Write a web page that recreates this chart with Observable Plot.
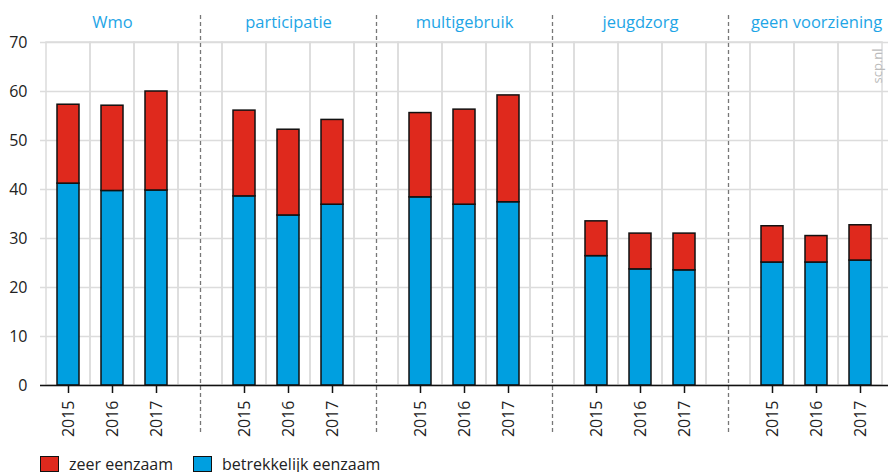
<!DOCTYPE html>
<html>
<head>
<meta charset="utf-8">
<script src="https://cdn.jsdelivr.net/npm/d3@7"></script>
<script src="https://cdn.jsdelivr.net/npm/@observablehq/plot@0.6"></script>
<style>
  body { margin: 0; background: #fff; font-family: "Open Sans", sans-serif; }
  #legend { display: flex; align-items: center; margin: 6px 0 0 40px; font-size: 16px; line-height: 16px; height: 16px; color: #222; }
  .sw { width: 17px; height: 14px; border: 1px solid #111; margin-right: 10px; }
  .item { display: flex; align-items: center; margin-right: 20px; }
</style>
</head>
<body>
<div id="chart"></div>
<div id="legend"></div>
<script>
const groups = ["Wmo", "participatie", "multigebruik", "jeugdzorg", "geen voorziening"];
const years = ["2015", "2016", "2017"];
const betrekkelijk = [
  [41.2, 39.7, 39.8],
  [38.6, 34.7, 36.9],
  [38.4, 36.9, 37.4],
  [26.4, 23.7, 23.5],
  [25.1, 25.1, 25.5]
];
const zeer = [
  [16.1, 17.4, 20.2],
  [17.5, 17.5, 17.3],
  [17.2, 19.4, 21.8],
  [7.1, 7.3, 7.5],
  [7.4, 5.4, 7.2]
];
const seriesNames = ["zeer eenzaam", "betrekkelijk eenzaam"];
const seriesColors = ["#df291d", "#009fe0"];
const yTicks = [0, 10, 20, 30, 40, 50, 60, 70];

// category ids: 3 years per group + an empty separator slot between groups
const ids = [];
const yearIds = [];
const sepIds = [];
const midIds = [];
groups.forEach((g, gi) => {
  years.forEach((y, yi) => { const id = g + "|" + y; ids.push(id); yearIds.push(id); if (yi === 1) midIds.push(id); });
  if (gi < groups.length - 1) { const s = "sep" + gi; ids.push(s); sepIds.push(s); }
});

const data = [];
groups.forEach((g, gi) => years.forEach((y, yi) => {
  data.push({id: g + "|" + y, series: seriesNames[1], value: betrekkelijk[gi][yi]});
  data.push({id: g + "|" + y, series: seriesNames[0], value: zeer[gi][yi]});
}));

const chart = Plot.plot({
  width: 888,
  height: 450,
  marginLeft: 40,
  marginRight: 0,
  marginTop: 42,
  marginBottom: 65,
  style: {fontFamily: "Open Sans, sans-serif", fontSize: "16px", color: "#222", background: "#fff", overflow: "visible", display: "block"},
  x: {domain: ids, padding: 0, label: null},
  y: {domain: [0, 70], label: null},
  color: {domain: seriesNames, range: seriesColors},
  marks: [
    Plot.gridY(yTicks, {stroke: "#dcdcdc", strokeOpacity: 1, strokeWidth: 1.5}),
    Plot.barY(ids, {x: d => d, y1: 0, y2: 70, fill: "none", stroke: "#dcdcdc", strokeWidth: 1.5}),
    Plot.ruleX(sepIds, {x: d => d, stroke: "#777", strokeWidth: 1.3, strokeDasharray: "4,3", insetTop: -27, insetBottom: -48}),
    Plot.barY(data, {x: "id", y: "value", fill: "series", order: [seriesNames[1], seriesNames[0]], stroke: "#111", strokeWidth: 1.5, insetLeft: 11, insetRight: 11}),
    Plot.ruleY([0], {stroke: "#111", strokeWidth: 1.5}),
    Plot.axisY(yTicks, {tickSize: 0, tickPadding: 13, fontSize: 16, fill: "#222", label: null}),
    Plot.axisX(yearIds, {tickSize: 8, tickPadding: 7, tickRotate: -90, fontSize: 16, fill: "#222", label: null, tickFormat: d => d.split("|")[1], stroke: "#111", strokeWidth: 1.5}),
    Plot.text(groups, {x: (d, i) => midIds[i], frameAnchor: "top", dy: -20, text: d => d, fill: "#1ea5e6", fontSize: 16.5, lineAnchor: "middle"}),
    Plot.text(["scp.nl"], {frameAnchor: "top-right", dx: -11, dy: 6, rotate: -90, textAnchor: "end", lineAnchor: "middle", fill: "#bbb", fontSize: 13})
  ]
});
document.getElementById("chart").appendChild(chart);

const legend = document.getElementById("legend");
seriesNames.forEach((s, i) => {
  const item = document.createElement("div");
  item.className = "item";
  const sw = document.createElement("div");
  sw.className = "sw";
  sw.style.background = seriesColors[i];
  const t = document.createElement("span");
  t.textContent = s;
  item.appendChild(sw);
  item.appendChild(t);
  legend.appendChild(item);
});
</script>
</body>
</html>
